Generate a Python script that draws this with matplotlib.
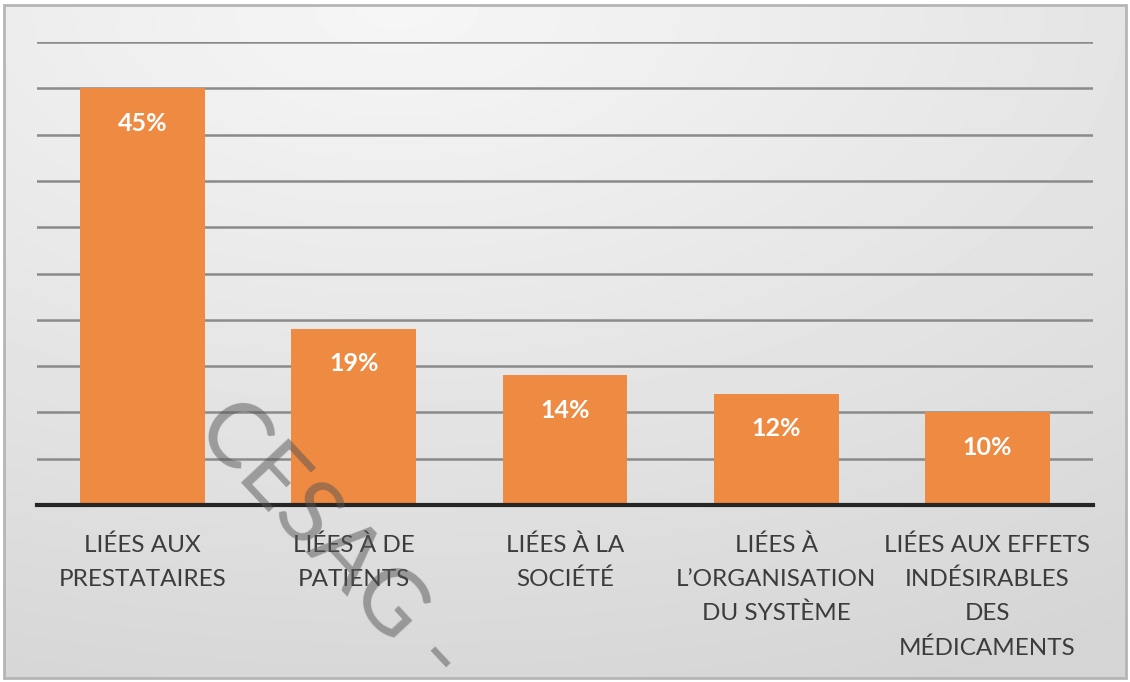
import numpy as np
import matplotlib.pyplot as plt
from matplotlib.patches import Rectangle

# catégories et pourcentages
categories = [
    "LIÉES AUX\nPRESTATAIRES",
    "LIÉES À DE\nPATIENTS",
    "LIÉES À LA\nSOCIÉTÉ",
    "LIÉES À\nL’ORGANISATION\nDU SYSTÈME",
    "LIÉES AUX EFFETS\nINDÉSIRABLES\nDES\nMÉDICAMENTS",
]
valeurs = [45, 19, 14, 12, 10]
etiquettes = ["45%", "19%", "14%", "12%", "10%"]

W, H = 1130, 682
fig = plt.figure(figsize=(W / 100, H / 100), dpi=100)
fig.patch.set_facecolor("white")

# fond dégradé gris
bg = fig.add_axes([4 / W, 4 / H, 1 - 8 / W, 1 - 9 / H])
yy, xx = np.mgrid[0:1:200j, 0:1:300j]
d = np.sqrt(((xx - 0.35) * 1.0) ** 2 + ((yy - 0.0) * 1.1) ** 2)
grad = 0.965 - 0.13 * np.clip(d, 0, 1.2) / 1.2
bg.imshow(grad, cmap="gray", vmin=0, vmax=1, aspect="auto",
          extent=[0, 1, 1, 0], interpolation="bilinear")
bg.set_xlim(0, 1)
bg.set_ylim(1, 0)
bg.axis("off")
bg.add_patch(Rectangle((0, 0), 1, 1, transform=bg.transAxes, fill=False,
                       edgecolor="#b5b5b5", linewidth=2, clip_on=False))

ax = fig.add_axes([37 / W, 1 - 505 / H, (1093 - 37) / W, (505 - 42) / H])
ax.patch.set_alpha(0)

x = np.arange(len(categories))
ax.bar(x, valeurs, width=0.59, color="#ee8a42", zorder=3)

for xi, v, txt in zip(x, valeurs, etiquettes):
    ax.annotate(txt, (xi, v), xytext=(0, -25), textcoords="offset points",
                ha="center", va="center", color="white", fontsize=18,
                fontweight="bold", family="Lato", zorder=4)

ax.set_xlim(-0.5, len(categories) - 0.5)
ax.set_ylim(0, 50)
ax.set_yticks(np.arange(0, 51, 5))
ax.yaxis.grid(True, color="#8a8a8a", linewidth=1.8, zorder=0)
ax.set_axisbelow(True)
ax.tick_params(axis="y", length=0, labelleft=False)
ax.tick_params(axis="x", length=0, pad=21)
ax.set_xticks(x)
ax.set_xticklabels(categories, fontsize=17.5, color="#3c3c3c", family="Lato",
                   linespacing=1.76, va="top")

for s in ["top", "left", "right"]:
    ax.spines[s].set_visible(False)
ax.spines["bottom"].set_color("#262626")
ax.spines["bottom"].set_linewidth(3)
ax.spines["bottom"].set_zorder(5)

# filigrane
fig.text(0.187, 0.392, "CESAG -", rotation=-47, rotation_mode="anchor",
         fontsize=66, color="#555555", alpha=0.5, family="Lato",
         ha="left", va="center")

fig.savefig("out.png", dpi=100)
